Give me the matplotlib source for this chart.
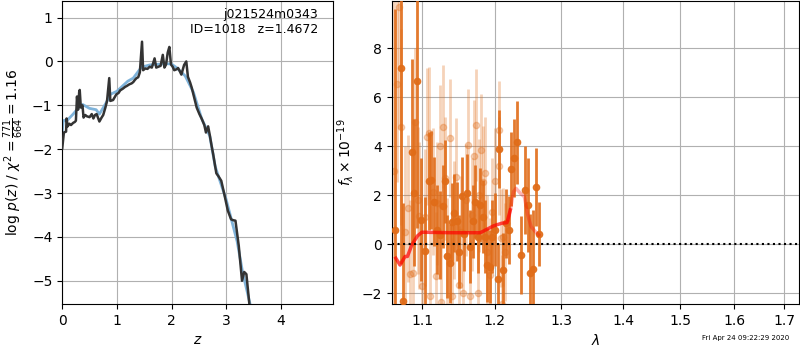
import numpy as np
import matplotlib
matplotlib.use('Agg')
import matplotlib.pyplot as plt

# ---- p(z) panel data ----
z_pz = [0.00, 0.03, 0.07, 0.08, 0.10, 0.13, 0.16, 0.20, 0.23, 0.25, 0.27, 0.29, 0.31,
        0.32, 0.34, 0.37, 0.39, 0.42, 0.45, 0.50, 0.54, 0.57, 0.60, 0.63, 0.68, 0.72,
        0.75, 0.79, 0.82, 0.86, 0.88, 0.93, 0.99, 1.03, 1.06, 1.11, 1.15, 1.18, 1.23,
        1.27, 1.30, 1.33, 1.36, 1.39, 1.42, 1.46, 1.48, 1.52, 1.56, 1.60, 1.64, 1.69,
        1.72, 1.76, 1.80, 1.84, 1.87, 1.90, 1.93, 1.96, 1.99, 2.02, 2.05, 2.09, 2.12,
        2.15, 2.18, 2.23, 2.27, 2.30, 2.34, 2.37, 2.42, 2.46, 2.51, 2.55, 2.60, 2.63,
        2.67, 2.70, 2.73, 2.76, 2.82, 2.86, 2.91, 2.97, 3.03, 3.09, 3.13, 3.17, 3.23,
        3.29, 3.33, 3.37, 3.43]
logpz = [-1.98, -1.62, -1.60, -1.30, -1.48, -1.42, -1.45, -1.40, -1.38, -1.35, -0.80,
         -1.10, -0.70, -0.65, -1.05, -1.00, -1.28, -1.22, -1.25, -1.27, -1.20, -1.30,
         -1.22, -1.20, -1.37, -1.28, -1.22, -1.05, -0.90, -0.38, -0.90, -0.88, -0.75,
         -0.72, -0.66, -0.62, -0.58, -0.56, -0.52, -0.50, -0.47, -0.42, -0.38, -0.36,
         -0.25, 0.45, -0.20, -0.16, -0.17, -0.12, -0.14, 0.07, -0.14, -0.12, -0.10,
         0.15, -0.14, -0.07, 0.20, 0.33, -0.07, -0.12, -0.20, -0.18, -0.15, -0.22,
         -0.30, -0.08, 0.00, -0.35, -0.48, -0.60, -0.85, -1.05, -1.20, -1.30, -1.45,
         -1.62, -1.48, -1.68, -1.90, -2.10, -2.55, -2.62, -2.72, -3.05, -3.40, -3.60,
         -3.62, -3.63, -4.20, -5.00, -4.80, -4.85, -5.60]

z_smooth = [0.00, 0.02, 0.10, 0.20, 0.30, 0.37, 0.50, 0.62, 0.68, 0.80, 0.88, 1.00, 1.20,
            1.30, 1.45, 1.60, 1.90, 2.00, 2.10, 2.25, 2.40, 2.55, 2.70, 2.80, 3.00, 3.20,
            3.30, 3.45]
logpz_smooth = [-1.60, -1.35, -1.33, -1.20, -1.05, -0.98, -1.07, -1.10, -1.20, -0.95,
                -0.75, -0.68, -0.45, -0.38, -0.13, -0.08, -0.05, -0.06, -0.15, -0.33,
                -0.70, -1.30, -1.70, -2.40, -3.15, -4.10, -4.80, -5.60]

# ---- spectrum panel data ----
lam_dark = [1.0645, 1.0722, 1.0750, 1.0868, 1.0894, 1.0934, 1.0985, 1.1036, 1.1080,
            1.1116, 1.1160, 1.1195, 1.1228, 1.1274, 1.1305, 1.1336, 1.1364, 1.1400,
            1.1428, 1.1465, 1.1500, 1.1535, 1.1570, 1.1605, 1.1651, 1.1688, 1.1722,
            1.1754, 1.1792, 1.1830, 1.1863, 1.1887, 1.1924, 1.1959, 1.2000, 1.2040,
            1.2065, 1.2113, 1.2160, 1.2200, 1.2236, 1.2280, 1.2325, 1.2389, 1.2438,
            1.2483, 1.2513, 1.2558, 1.2604, 1.2650]
flux_dark = [0.6, 7.18, -2.30, 3.76, 2.10, 6.67, 1.00, -0.26, 2.58, 2.63, 1.74, 0.60,
             0.38, 1.54, 2.56, -0.50, -0.78, 0.90, 1.27, 0.93, -0.30, 1.95, 0.40, 2.08,
             -0.10, 0.93, 1.74, 0.31, 1.60, 1.13, 0.31, -0.84, -0.91, 0.31, 0.60, -1.43,
             3.89, -1.05, 0.85, 0.58, 3.07, 3.51, 4.16, -0.44, 2.22, 1.60, -1.16, -1.00,
             2.33, 0.41]
err_dark = [9.0, 8.0, 4.0, 3.8, 3.0, 6.0, 2.5, 2.2, 2.0, 2.0, 1.8, 1.8, 1.8, 1.7, 1.7,
            1.7, 1.6, 1.6, 1.6, 1.6, 1.5, 1.6, 1.5, 1.6, 1.5, 1.5, 1.5, 1.5, 1.5, 1.5,
            1.5, 1.5, 1.5, 1.5, 1.5, 1.5, 1.6, 1.5, 1.4, 1.4, 1.5, 1.6, 1.7, 1.6, 1.8,
            1.9, 2.4, 2.4, 1.6, 1.3]

lam_light = [1.0630, 1.0665, 1.0696, 1.0722, 1.0770, 1.0808, 1.0840, 1.0881, 1.0907,
             1.0935, 1.0960, 1.0995, 1.1030, 1.1066, 1.1090, 1.1105, 1.1140, 1.1175,
             1.1200, 1.1228, 1.1250, 1.1274, 1.1300, 1.1335, 1.1364, 1.1400, 1.1430,
             1.1457, 1.1490, 1.1520, 1.1550, 1.1585, 1.1617, 1.1650, 1.1680, 1.1700,
             1.1735, 1.1760, 1.1780, 1.1800, 1.1830, 1.1863, 1.1890, 1.1930, 1.1960,
             1.2000, 1.2055, 1.2065, 1.2095, 1.2110, 1.2125, 1.2150]
flux_light = [3.0, 6.53, 9.70, 4.80, 0.50, 1.47, -1.20, -1.18, 5.00, 1.80, 1.16, -1.70,
              1.10, 4.39, 4.53, -2.10, 2.15, -1.30, 1.67, 3.99, -2.34, 4.80, 2.69, -0.50,
              4.33, -2.13, 1.00, 2.76, -1.66, 0.50, -2.00, 1.80, 4.05, -2.13, 1.20, 3.60,
              4.87, -2.00, 2.00, 3.85, 2.52, 2.90, -0.30, -1.25, 1.30, 2.56, 4.67, 3.20,
              0.24, -2.43, 0.31, -0.30]
err_light = [7.0, 4.0, 5.0, 4.0, 3.5, 3.0, 3.0, 3.0, 3.0, 3.0, 3.0, 2.8, 2.8, 2.8, 2.7,
             2.6, 2.6, 2.6, 2.5, 2.5, 2.5, 2.5, 2.5, 2.4, 2.4, 2.4, 2.4, 2.4, 2.4, 2.3,
             2.3, 2.3, 2.3, 2.3, 2.3, 2.3, 2.3, 2.3, 2.3, 2.3, 2.3, 2.3, 2.3, 2.3, 2.2,
             2.2, 2.0, 2.0, 2.0, 2.0, 2.0, 2.0]

lam_model = [1.0653, 1.0707, 1.0772, 1.0803, 1.0860, 1.0934, 1.0992, 1.1373, 1.1792,
             1.1982, 1.2105, 1.2177, 1.2226]
flux_model = [-0.57, -0.85, -0.50, -0.50, -0.03, 0.34, 0.49, 0.47, 0.47, 0.75, 0.86,
              0.88, 1.40]
lam_model2 = [1.2200, 1.2226, 1.2274, 1.2310, 1.2374, 1.2434, 1.2484, 1.2535, 1.2600,
              1.2650]
flux_model2 = [1.00, 1.40, 2.15, 2.28, 2.08, 1.94, 1.20, 0.72, 0.51, 0.38]

lam_ticks = [1.1, 1.2, 1.3, 1.4, 1.5, 1.6, 1.7]

ORANGE = '#e06c18'

fig = plt.figure(figsize=(8, 3.5), dpi=100)
ax1 = fig.add_axes([0.0778, 0.1314, 0.3388, 0.866])
ax2 = fig.add_axes([0.4896, 0.1314, 0.5091, 0.866])

# --- p(z) ---
ax1.plot(z_smooth, logpz_smooth, color='#7fb3da', lw=2, zorder=2)
ax1.plot(z_pz, logpz, color='0.2', lw=1.8, zorder=3)
ax1.set_xlim(0, 4.96)
ax1.set_ylim(-5.53, 1.38)
ax1.set_xticks([0, 1, 2, 3, 4])
ax1.set_yticks([-5, -4, -3, -2, -1, 0, 1])
ax1.grid(True)
ax1.set_xlabel('$z$')
ax1.set_ylabel(r'log $p(z)$ / $\chi^2=\frac{771}{664}=1.16$')
ax1.text(0.945, 0.975, 'j021524m0343\nID=1018   z=1.4672', transform=ax1.transAxes,
         ha='right', va='top', fontsize=9)

# --- spectrum ---
ax2.errorbar(lam_light, flux_light, yerr=err_light, fmt='o', color=ORANGE, alpha=0.3,
             ms=4.5, elinewidth=2, zorder=2)
ax2.errorbar(lam_dark, flux_dark, yerr=err_dark, fmt='o', color=ORANGE, alpha=0.9,
             ms=4.5, elinewidth=2, zorder=3)
ax2.plot(lam_model2, flux_model2, color='red', alpha=0.3, lw=2.5, zorder=4)
ax2.plot(lam_model, flux_model, color='red', alpha=0.7, lw=2.5, zorder=5)
ax2.axhline(0, color='k', ls=':', lw=1.5, zorder=6)
ax2.set_xscale('log')
ax2.set_xlim(1.06, 1.73)
ax2.set_ylim(-2.44, 9.93)
ax2.set_xticks(lam_ticks)
ax2.set_xticklabels([f'{t:.1f}' for t in lam_ticks])
ax2.xaxis.set_minor_locator(matplotlib.ticker.NullLocator())
ax2.set_yticks([-2, 0, 2, 4, 6, 8])
ax2.grid(True)
ax2.set_xlabel(r'$\lambda$')
ax2.set_ylabel(r'$f_\lambda\times10^{-19}$')

fig.text(0.986, 0.025, 'Fri Apr 24 09:22:29 2020', ha='right', va='bottom', fontsize=5)

fig.savefig('out.png', dpi=100)
